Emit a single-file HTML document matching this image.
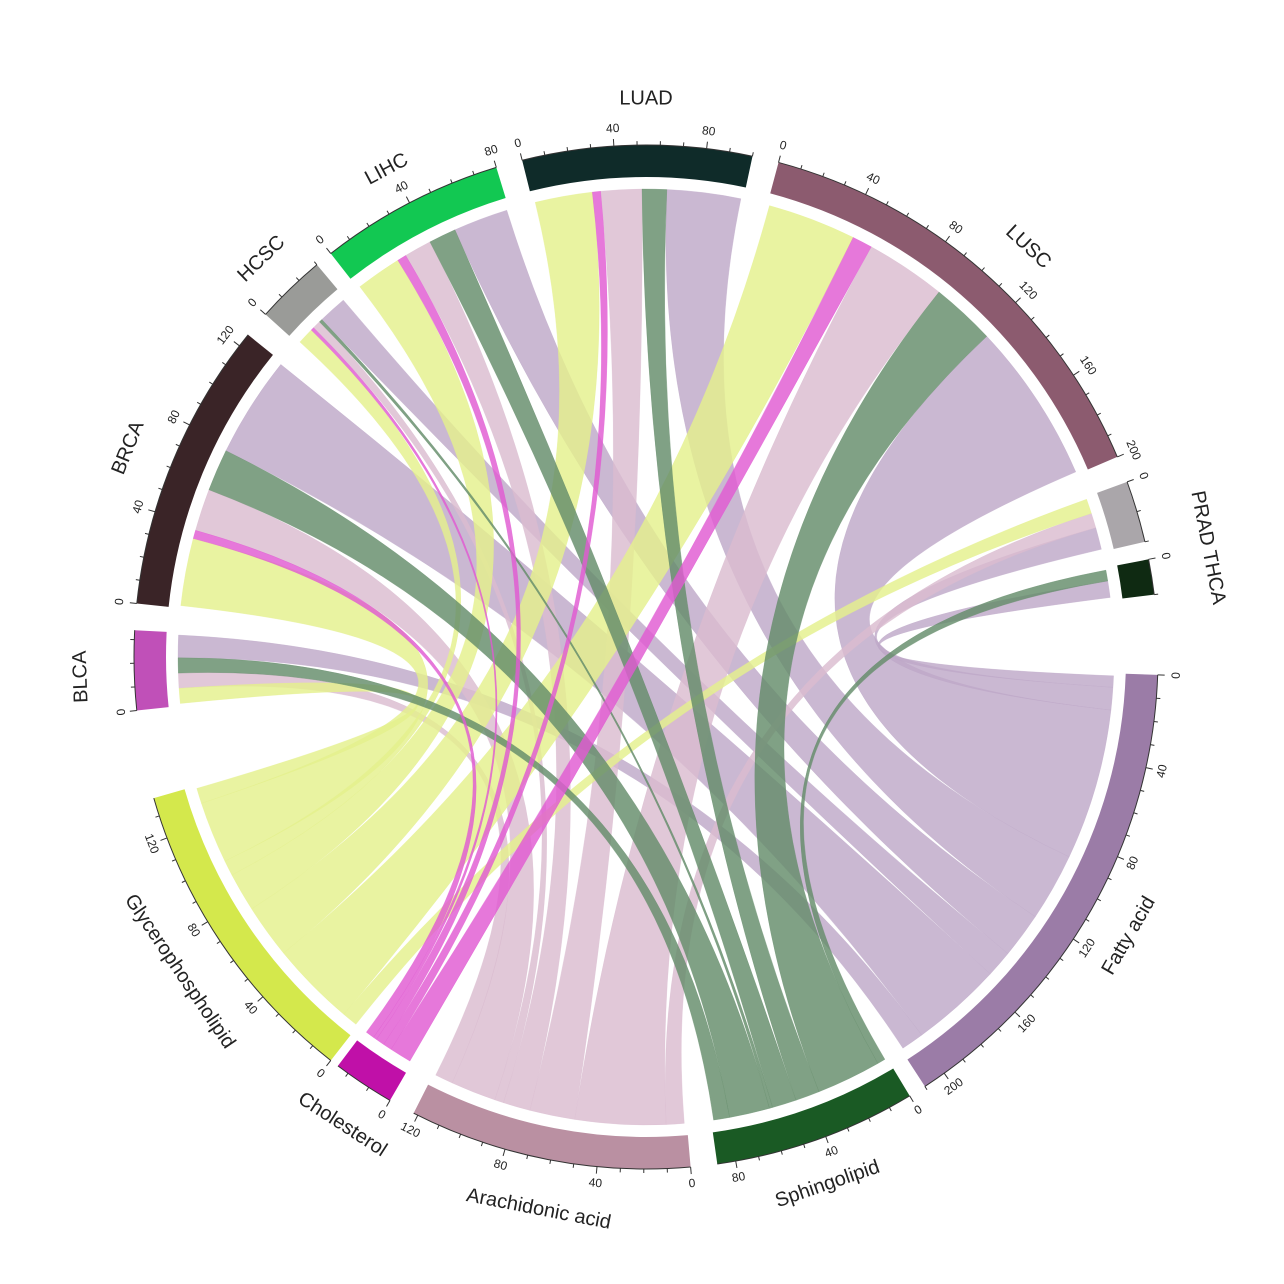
<!DOCTYPE html>
<html><head><meta charset="utf-8"><style>
html,body{margin:0;padding:0;background:#fff;width:1284px;height:1284px;overflow:hidden}
svg{display:block}
text{font-family:"Liberation Sans",sans-serif;fill:#222}
</style></head><body>
<svg id="s" width="1284" height="1284" viewBox="0 0 1284 1284"></svg>
<script>
const CX=646,CY=657,RO=512,RI=480,RC=468;
const svg=document.getElementById('s');
const NS='http://www.w3.org/2000/svg';
function el(t,a,p){const e=document.createElementNS(NS,t);for(const k in a)e.setAttribute(k,a[k]);(p||svg).appendChild(e);return e;}
function pt(a,r){const t=a*Math.PI/180;return [CX+r*Math.sin(t),CY-r*Math.cos(t)];}
const segs={
LUAD:{a:-14,b:12,c:'#0f2b29',max:100,lab:[0,40,80]},
LUSC:{a:15,b:67,c:'#8c5b6f',max:200,lab:[0,40,80,120,160,200]},
PRAD:{a:70,b:77,c:'#aaa6aa',max:20,lab:[0]},
THCA:{a:79,b:83,c:'#0f2a12',max:10,lab:[0]},
Fatty:{a:92,b:147,c:'#9b7ca7',max:210,lab:[0,40,80,120,160,200],name:'Fatty acid',cc:'rgb(190,168,200)'},
Sphingo:{a:149,b:172,c:'#1a5a24',max:88,lab:[0,40,80],name:'Sphingolipid',cc:'rgb(100,140,106)'},
Arach:{a:175,b:207,c:'#ba90a2',max:122,lab:[0,40,80,120],name:'Arachidonic acid',cc:'rgb(218,188,208)'},
Chol:{a:210,b:217,c:'#c010a8',max:25,lab:[0],name:'Cholesterol',cc:'rgb(224,90,210)'},
Glycero:{a:218,b:254,c:'#d4e84c',max:138,lab:[0,40,80,120],name:'Glycerophospholipid',cc:'rgb(228,240,140)'},
BLCA:{a:264,b:273,c:'#c050b8',max:34,lab:[0]},
BRCA:{a:276,b:309,c:'#3a2427',max:126,lab:[0,40,80,120]},
HCSC:{a:312,b:320,c:'#9a9b98',max:30,lab:[0]},
LIHC:{a:322,b:343,c:'#12c852',max:80,lab:[0,40,80]}
};
const M={
LUAD:{Glycero:7,Chol:1,Arach:5,Sphingo:3,Fatty:9},
LUSC:{Glycero:11,Chol:2.5,Arach:10,Sphingo:8,Fatty:20},
PRAD:{Glycero:2,Arach:2,Fatty:3},
THCA:{Sphingo:1,Fatty:1.5},
BLCA:{Glycero:2,Arach:2,Sphingo:2,Fatty:3},
BRCA:{Glycero:8,Chol:1,Arach:5,Sphingo:5,Fatty:12},
HCSC:{Glycero:2,Chol:0.4,Arach:1,Sphingo:0.4,Fatty:3.5},
LIHC:{Glycero:5,Chol:1,Arach:3,Sphingo:3,Fatty:6}
};
function mid(k){return (segs[k].a+segs[k].b)/2;}
function md(x){return ((x%360)+360)%360;}
const pos={};
for(const c in M){const L=Object.keys(M[c]).sort((x,y)=>md(mid(y)-mid(c))-md(mid(x)-mid(c)));
 let tot=0;L.forEach(l=>tot+=M[c][l]);const span=segs[c].b-segs[c].a-0.6;let a=segs[c].a+0.3;
 L.forEach(l=>{const w=M[c][l]/tot*span;pos[c+'|'+l]={c:[a,a+w]};a+=w;});}
for(const l of ['Fatty','Sphingo','Arach','Chol','Glycero']){const C=Object.keys(M).filter(c=>M[c][l]).sort((x,y)=>md(mid(y)-mid(l))-md(mid(x)-mid(l)));
 let tot=0;C.forEach(c=>tot+=M[c][l]);const span=segs[l].b-segs[l].a-0.6;let a=segs[l].a+0.3;
 C.forEach(c=>{const w=M[c][l]/tot*span;pos[c+'|'+l].l=[a,a+w];a+=w;});}
const g=el('g',{});
function arcPath(a1,a2,r){const p=pt(a2,r);return `A${r},${r} 0 ${(a2-a1)>180?1:0} 1 ${p[0].toFixed(1)},${p[1].toFixed(1)}`;}
const order=['Fatty','Arach','Glycero','Sphingo','Chol'];
order.forEach(l=>{for(const k in pos){const [c,ll]=k.split('|');if(ll!==l)continue;const P=pos[k];
 const s1=pt(P.c[0],RC),t1=pt(P.l[0],RC);
 const d=`M${s1[0].toFixed(1)},${s1[1].toFixed(1)} ${arcPath(P.c[0],P.c[1],RC)} Q${CX},${CY} ${t1[0].toFixed(1)},${t1[1].toFixed(1)} ${arcPath(P.l[0],P.l[1],RC)} Q${CX},${CY} ${s1[0].toFixed(1)},${s1[1].toFixed(1)}Z`;
 el('path',{d,fill:segs[l].cc,'fill-opacity':0.82,stroke:segs[l].cc,'stroke-opacity':0.5,'stroke-width':0.5},g);}});
for(const k in segs){const s=segs[k];const o1=pt(s.a,RO),i1=pt(s.a,RI),i2=pt(s.b,RI);
 el('path',{d:`M${o1} ${arcPath(s.a,s.b,RO)} L${i2} A${RI},${RI} 0 0 0 ${i1}Z`,fill:s.c});
 const dpu=(s.b-s.a)/s.max;
 el('path',{d:`M${o1} ${arcPath(s.a,s.b,RO)}`,fill:'none',stroke:'#333','stroke-width':1});
 for(let v=0;v<=s.max;v+=10){const a=s.a+v*dpu;const p1=pt(a,RO),p2=pt(a,RO+(v%40==0?7:4));
  el('line',{x1:p1[0],y1:p1[1],x2:p2[0],y2:p2[1],stroke:'#333','stroke-width':1});}
 s.lab.forEach(v=>{const a=s.a+v*dpu;const p=pt(a,RO+17);let rot=a;if(md(a)>95&&md(a)<265)rot=a+180;
  const t=el('text',{x:p[0],y:p[1],'font-size':12,'text-anchor':'middle','dominant-baseline':'middle',transform:`rotate(${rot} ${p[0]} ${p[1]})`});t.textContent=v;});
}
const labs=[['LUAD',0,'LUAD',558],['LUSC',43,'LUSC',560],['PRAD THCA',79,'PRAD THCA',572],['Fatty',120,'Fatty acid',558],['Sphingo',161,'Sphingolipid',558],['Arach',191,'Arachidonic acid',563],['Chol',213,'Cholesterol',558],['Glycero',236,'Glycerophospholipid',563],['BLCA',268,'BLCA',565],['BRCA',292,'BRCA',558],['HCSC',316,'HCSC',553],['LIHC',332,'LIHC',552]];
labs.forEach(([k,a,txt,r])=>{const p=pt(a,r);let rot=a;if(md(a)>95&&md(a)<265)rot=a+180;
 const t=el('text',{x:p[0],y:p[1],'font-size':20,'text-anchor':'middle','dominant-baseline':'middle',transform:`rotate(${rot} ${p[0]} ${p[1]})`});t.textContent=txt;});
</script>
</body></html>
